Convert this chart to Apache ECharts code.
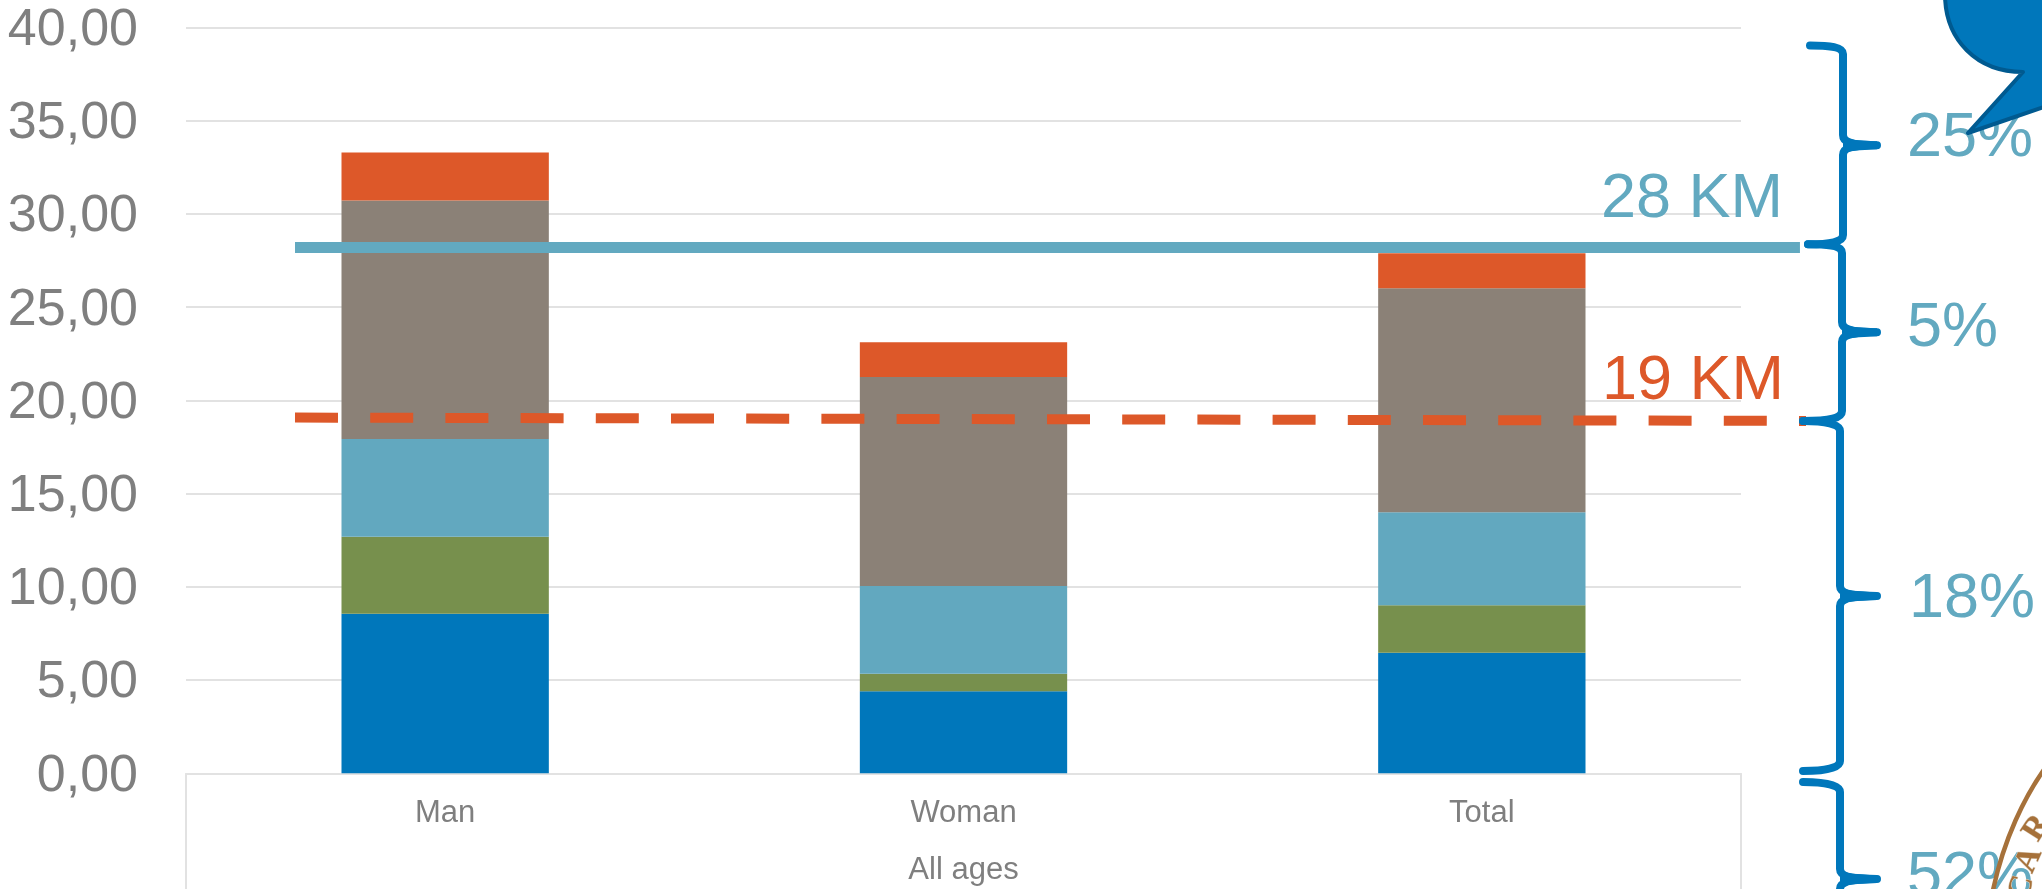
<!DOCTYPE html>
<html><head><meta charset="utf-8">
<style>html,body{margin:0;padding:0;background:#fff}#c{width:2042px;height:889px}</style>
<script src="https://cdn.jsdelivr.net/npm/echarts@6/dist/echarts.min.js"></script>
</head><body><div id="c"></div>
<script>
const categories = ['Man', 'Woman', 'Total'];
const groupLabel = ['All ages'];
const band1 = [8.56, 4.40, 6.47];
const band2 = [4.13, 0.94, 2.54];
const band3 = [5.24, 4.71, 4.99];
const band4 = [12.80, 11.21, 12.02];
const band5 = [2.57, 1.86, 1.88];
const line28 = [[0, 28.2], [0.996, 28.2]];
const line19 = [[0, 19.08], [1, 18.9]];
const percentLabels = ['25%', '5%', '18%', '52%'];

const F = '"Liberation Sans", Arial, sans-serif';
const GRID = '#E2E2E2', TXT = '#7F7F7F', BLUE = '#0077BB', ORANGE = '#DD5829', TEAL = '#62A9C0';
const chart = echarts.init(document.getElementById('c'), null, {renderer: 'canvas'});

const bar = (name, data, color) => ({
  name, type: 'bar', stack: 'a', data, barWidth: '40%', xAxisIndex: 0, yAxisIndex: 0,
  itemStyle: {color}, silent: true, z: 2
});
const brace = (d) => ({
  type: 'path', shape: {pathData: d},
  style: {fill: 'none', stroke: BLUE, lineWidth: 8, lineCap: 'round', lineJoin: 'round'}
});
const neck = (sx, ty) => ({
  type: 'path',
  shape: {pathData: `M${sx},${ty - 9} C${sx + 5},${ty - 5} ${sx + 16},${ty - 5} 1877,${ty - 4} L1877,${ty + 4} C${sx + 16},${ty + 5} ${sx + 5},${ty + 5} ${sx},${ty + 9} Z`},
  style: {fill: BLUE, stroke: 'none'}
});
const label = (text, x, y, color, size) => ({
  type: 'text', z: 15, silent: true, x, y,
  style: {text, fill: color, font: size + 'px ' + F, textAlign: 'left', textVerticalAlign: 'middle'}
});
const sealLetter = (text, x, y, rot) => ({
  type: 'text', z: 32, silent: true, x, y, rotation: rot,
  style: {text, fill: '#A6713A', stroke: '#E0D2C0', lineWidth: 1,
    font: 'bold 33px "Liberation Serif", serif', textAlign: 'center', textVerticalAlign: 'middle'}
});

const annotations = () => ({
  type: 'group',
  children: [
    brace('M1810,45.5 C1830,45.5 1843,47 1843,54 L1843,135 C1843,142 1850,145.3 1877,145.3 C1850,145.3 1843,148 1843,155 L1843,235 C1843,242 1830,244.3 1808,244.3'),
    brace('M1808,244.3 C1830,244.3 1842,246 1842,253 L1842,322 C1842,329 1850,332.3 1877,332.3 C1850,332.3 1842,335 1842,342 L1842,411 C1842,418 1830,421 1803,421'),
    brace('M1803,421 C1825,421 1840,424 1840,431 L1840,586 C1840,593 1850,596 1877,596 C1850,596 1840,599 1840,606 L1840,761 C1840,768 1825,771 1803,771'),
    brace('M1803,782 C1825,782 1840,785 1840,792 L1840,869 C1840,876 1850,879 1877,879 C1850,879 1840,882 1840,889 L1840,900'),
    neck(1843, 145.3), neck(1842, 332.3), neck(1840, 596), neck(1840, 879),
    {type: 'path',
     shape: {pathData: 'M1945,-6 C1945,40 1977,72 2023,72 L1968,133 L2050,105 L2050,-6 Z'},
     style: {fill: BLUE, stroke: '#005A90', lineWidth: 4, lineJoin: 'round'}},
    {type: 'path',
     shape: {pathData: 'M2048,764 C2025,795 2003,840 1992,895'},
     style: {fill: 'none', stroke: '#A6713A', lineWidth: 4.5}}
  ]
});

chart.setOption({
  animation: false,
  backgroundColor: '#fff',
  grid: [
    {left: 186, right: 301, top: 27.6, bottom: 115.7, outerBoundsMode: 'none'},
    {left: 295, right: 236, top: 27.6, bottom: 115.7, outerBoundsMode: 'none'}
  ],
  xAxis: [
    {type: 'category', gridIndex: 0, data: categories, position: 'bottom',
     axisLine: {show: true, onZero: false, lineStyle: {color: GRID, width: 2}},
     axisTick: {show: false},
     axisLabel: {color: TXT, fontFamily: F, fontSize: 31, margin: 25}},
    {type: 'category', gridIndex: 0, data: groupLabel, position: 'bottom',
     axisLine: {show: false},
     axisTick: {show: true, length: 116, lineStyle: {color: GRID, width: 2}},
     axisLabel: {color: TXT, fontFamily: F, fontSize: 31, margin: 82}},
    {type: 'value', gridIndex: 1, min: 0, max: 1, show: false}
  ],
  yAxis: [
    {type: 'value', gridIndex: 0, min: 0, max: 40, interval: 5,
     axisLine: {show: false}, axisTick: {show: false},
     splitLine: {show: true, lineStyle: {color: GRID, width: 2}},
     axisLabel: {color: TXT, fontFamily: F, fontSize: 52, margin: 48,
       formatter: v => '{n|' + v.toFixed(2).replace('.', ',') + '}',
       rich: {n: {color: TXT, fontFamily: F, fontSize: 52, lineHeight: 62, padding: [6, 0, 0, 0]}}}},
    {type: 'value', gridIndex: 1, min: 0, max: 40, show: false}
  ],
  series: [
    bar('band1', band1, BLUE),
    bar('band2', band2, '#77904D'),
    bar('band3', band3, '#62A8BF'),
    bar('band4', band4, '#8B8177'),
    bar('band5', band5, ORANGE),
    {type: 'line', xAxisIndex: 2, yAxisIndex: 1, data: line28, symbol: 'none', silent: true, z: 5, clip: false,
     lineStyle: {color: TEAL, width: 11, cap: 'butt'}},
    {type: 'line', xAxisIndex: 2, yAxisIndex: 1, data: line19, symbol: 'none', silent: true, z: 5, clip: false,
     lineStyle: {color: ORANGE, width: 10, type: [43, 32.2], cap: 'butt'}},
    {type: 'custom', coordinateSystem: 'none', data: [0], silent: true, z: 20, clip: false, renderItem: annotations}
  ],
  graphic: {elements: [
    label('28 KM', 1601, 200, TEAL, 63),
    label('19 KM', 1602, 382, ORANGE, 63),
    label(percentLabels[0], 1907, 139, TEAL, 63),
    label(percentLabels[1], 1907, 329, TEAL, 63),
    label(percentLabels[2], 1909, 600, TEAL, 63),
    label(percentLabels[3], 1907, 878, TEAL, 63),
    sealLetter('R', 2037, 828, 1.0),
    sealLetter('A', 2029, 860, 1.15),
    sealLetter('C', 2022, 888, 1.3)
  ]}
});
</script></body></html>
